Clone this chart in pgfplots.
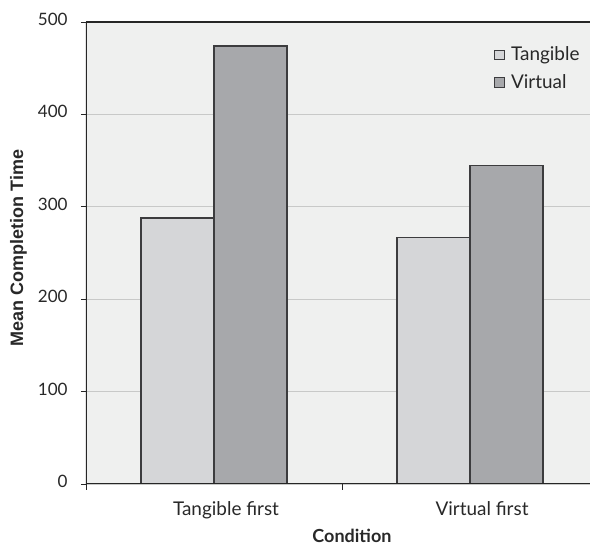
\documentclass[border=0pt]{standalone}
\usepackage{pgfplots}
\pgfplotsset{compat=1.18}
\usepackage{fontspec}
\setmainfont{Lato}
\newfontfamily\arialfont{Liberation Sans}

\definecolor{plotbg}{RGB}{239,240,239}
\definecolor{tangiblefill}{RGB}{213,214,216}
\definecolor{virtualfill}{RGB}{167,168,171}
\definecolor{baredge}{RGB}{60,60,62}
\definecolor{gridgray}{RGB}{200,201,200}
\definecolor{axisdark}{RGB}{38,38,38}
\definecolor{textgray}{RGB}{40,40,40}

\begin{document}
\begin{tikzpicture}
\begin{axis}[
  at={(64.5pt,45.75pt)}, anchor=south west,
  scale only axis, width=384pt, height=346.5pt,
  xmin=-0.5, xmax=1.5, ymin=0, ymax=500,
  ybar=0pt, bar width=54.75pt,
  axis background/.style={fill=plotbg},
  axis line style={draw=none},
  ytick={0,100,...,500},
  ymajorgrids, grid style={gridgray, line width=0.8pt},
  ytick pos=left, xtick pos=left, tick align=outside,
  major tick length=3.75pt, minor tick length=4.5pt,
  xtick={0,1}, xticklabels={Tangible first, Virtual first},
  minor xtick={-0.5,0.5,1.5},
  major x tick style={draw=none},
  minor x tick style={axisdark, line width=0.6pt},
  major y tick style={axisdark, line width=0.6pt},
  /pgf/number format/assume math mode=true,
  tick label style={text=textgray},
  yticklabel style={font=\fontsize{12.8}{15}\selectfont, anchor=east, yshift=2pt, xshift=-6.5pt},
  xticklabel style={font=\fontsize{14.2}{17}\selectfont, anchor=base, xshift=9pt, yshift=-20pt},
  xlabel={Condition}, ylabel={Mean Completion Time},
  every axis x label/.style={at={(axis description cs:0.5195,-0.1115)}, anchor=center,
    font=\bfseries\fontsize{13.5}{16}\selectfont, text=textgray},
  every axis y label/.style={at={(axis description cs:-0.1318,0.511)}, rotate=90, anchor=center,
    font=\arialfont\bfseries\fontsize{13.5}{16}\selectfont, text=textgray},
  legend style={at={(0.789,0.958)}, anchor=north west, draw=none, fill=none,
    font=\fontsize{14.2}{17}\selectfont, text=textgray, row sep=4.5pt},
  legend cell align=left,
  legend image code/.code={\draw[#1, line width=0.7pt] (0pt,-3.6pt) rectangle (7.4pt,3.6pt);
    \path (9.8pt,0pt);},
]
\addplot[fill=tangiblefill, draw=baredge, line width=1pt] coordinates {(0,288) (1,267)};
\addplot[fill=virtualfill, draw=baredge, line width=1pt] coordinates {(0,474) (1,345)};
\legend{Tangible, Virtual}
% axis frame: left, bottom and top lines
\draw[axisdark, line width=1.1pt] (rel axis cs:0,1) -- (rel axis cs:1,1);
\draw[axisdark, line width=1.2pt] (rel axis cs:0,0) -- (rel axis cs:0,1);
\draw[axisdark, line width=1.6pt] (rel axis cs:0,0) -- (rel axis cs:1,0);
\end{axis}
\pgfresetboundingbox
\useasboundingbox (0pt,0pt) rectangle (442.5pt,408.75pt);
\end{tikzpicture}
\end{document}
